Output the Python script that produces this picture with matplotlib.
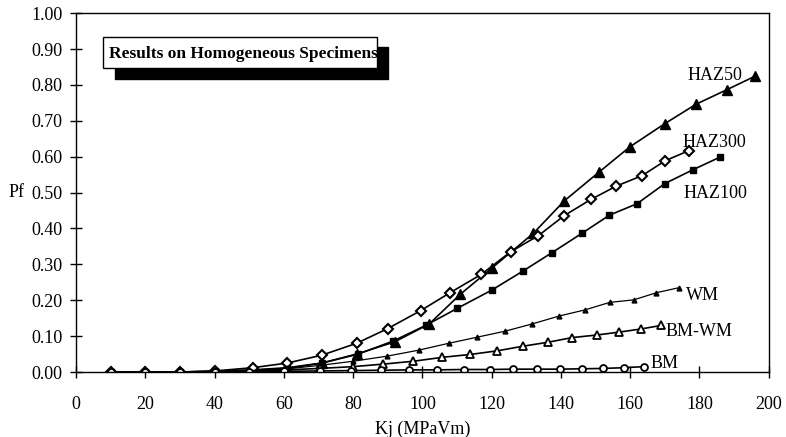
import matplotlib
matplotlib.use("Agg")
import matplotlib.pyplot as plt
from matplotlib.patches import Rectangle

plt.rcParams['font.family'] = ['Liberation Serif', 'DejaVu Serif']

# data: Kj (MPaVm) vs failure probability Pf
haz50_x = [10, 20, 30, 40, 51, 61, 71, 81, 92, 102, 111, 120, 132, 141, 151, 160, 170, 179, 188, 196]
haz50_y = [0, 0, 0, 0.002, 0.006, 0.012, 0.025, 0.05, 0.084, 0.134, 0.217, 0.289, 0.386, 0.477,
           0.557, 0.628, 0.692, 0.746, 0.787, 0.824]

haz100_x = [10, 20, 30, 40, 51, 61, 71, 81.5, 91.5, 101, 110, 120, 129, 137.5, 146, 154, 162, 170, 178, 186]
haz100_y = [0, 0, 0, 0.002, 0.005, 0.01, 0.025, 0.05, 0.086, 0.130, 0.177, 0.228, 0.281, 0.333,
            0.386, 0.437, 0.469, 0.525, 0.563, 0.599]

haz300_x = [10, 20, 30, 40, 51, 61, 71, 81, 90, 99.5, 108, 117, 125.5, 133.5, 141, 148.7, 156, 163.4, 170.2, 177]
haz300_y = [0, 0, 0, 0.003, 0.012, 0.025, 0.047, 0.080, 0.121, 0.171, 0.221, 0.272, 0.335, 0.380,
            0.436, 0.481, 0.518, 0.547, 0.589, 0.617]

wm_x = [10, 20, 30, 40, 50, 60, 70, 80, 89.7, 99, 107.6, 115.8, 124, 131.7, 139.5, 146.9, 154.1, 161, 167.6, 174.1]
wm_y = [0, 0, 0, 0.001, 0.004, 0.008, 0.018, 0.030, 0.044, 0.061, 0.080, 0.097, 0.114, 0.134,
        0.156, 0.173, 0.194, 0.201, 0.221, 0.235]

bmwm_x = [10, 20, 30, 40, 50, 60.8, 70.4, 80, 88.7, 97.4, 105.8, 113.9, 121.6, 129.1, 136.3, 143.3, 150.3, 156.7, 163.2, 169]
bmwm_y = [0, 0, 0, 0, 0.002, 0.006, 0.010, 0.015, 0.022, 0.030, 0.041, 0.049, 0.059, 0.072,
          0.083, 0.096, 0.103, 0.111, 0.120, 0.130]

bm_x = [10, 20, 30, 40, 50, 60, 70.4, 79.5, 88.2, 96.2, 104.3, 112, 119.5, 126.2, 133, 139.7, 146.1, 152.2, 158.2, 163.9]
bm_y = [0, 0, 0, 0, 0.001, 0.002, 0.003, 0.004, 0.005, 0.006, 0.006, 0.007, 0.007, 0.008,
        0.008, 0.008, 0.009, 0.010, 0.012, 0.015]

x_ticks = list(range(0, 201, 20))
y_ticks = [i / 10 for i in range(11)]

fig = plt.figure(figsize=(7.86, 4.37), dpi=100)
ax = fig.add_axes([0.0967, 0.1487, 0.8813, 0.8213])

lw = 1.2
ax.plot(haz50_x, haz50_y, color='black', lw=lw, marker='^', ms=6.5, mfc='black', mec='black')
ax.plot(haz100_x, haz100_y, color='black', lw=lw, marker='s', ms=4.5, mfc='black', mec='black')
ax.plot(haz300_x, haz300_y, color='black', lw=lw, marker='D', ms=5, mfc='white', mec='black', mew=1.5)
ax.plot(wm_x, wm_y, color='black', lw=0.9, marker='^', ms=3.5, mfc='black', mec='black')
ax.plot(bmwm_x, bmwm_y, color='black', lw=lw, marker='^', ms=6, mfc='white', mec='black', mew=1.3)
ax.plot(bm_x, bm_y, color='black', lw=lw, marker='o', ms=5, mfc='white', mec='black', mew=1.3)

# curve labels
lab = dict(fontsize=13, va='center', ha='left', color='black')
ax.text(176.5, 0.827, 'HAZ50', **lab)
ax.text(175, 0.639, 'HAZ300', **lab)
ax.text(175.5, 0.498, 'HAZ100', **lab)
ax.text(176, 0.214, 'WM', **lab)
ax.text(170.3, 0.114, 'BM-WM', **lab)
ax.text(165.9, 0.024, 'BM', **lab)

ax.set_xlim(0, 200)
ax.set_ylim(0, 1.0)
ax.set_xticks(x_ticks)
ax.set_yticks(y_ticks)
ax.set_yticklabels([f'{v:.2f}' for v in y_ticks])
ax.tick_params(axis='both', direction='inout', length=9, width=1, labelsize=13, colors='black')
ax.tick_params(axis='x', pad=13)
ax.tick_params(axis='y', pad=5)
for s in ax.spines.values():
    s.set_linewidth(1.0)
    s.set_color('black')

ax.set_xlabel('Kj (MPaVm)', fontsize=13, labelpad=5)
ax.text(-0.098, 0.5, 'Pf', transform=ax.transAxes, fontsize=13, va='center', ha='left')

# title box with drop shadow
shadow = Rectangle((115 / 786, 1 - 79 / 437), 273 / 786, 32 / 437, transform=fig.transFigure,
                   facecolor='black', edgecolor='black', zorder=5)
box = Rectangle((103 / 786, 1 - 68 / 437), 274 / 786, 31 / 437, transform=fig.transFigure,
                facecolor='white', edgecolor='black', lw=1.0, zorder=6)
fig.patches.extend([shadow, box])
fig.text(109 / 786, 1 - 54 / 437, 'Results on Homogeneous Specimens', fontsize=12.5,
         fontweight='bold', va='center', ha='left', zorder=7)

fig.savefig('out.png', dpi=100)
